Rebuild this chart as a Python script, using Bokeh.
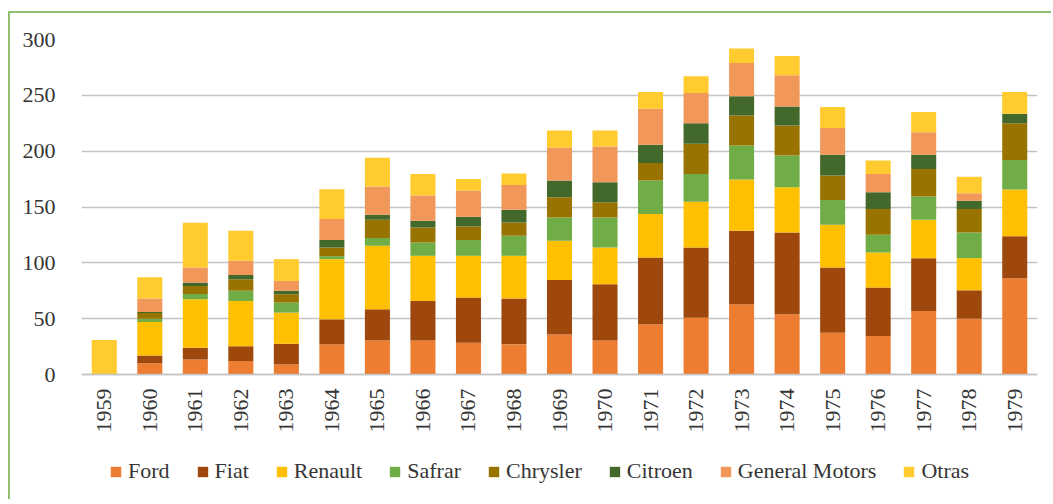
from bokeh.plotting import figure
from bokeh.embed import file_html
from bokeh.resources import INLINE
from bokeh.models import ColumnDataSource, Legend, LegendItem, FixedTicker
import math

years = [str(y) for y in range(1959, 1980)]
series = ["Ford", "Fiat", "Renault", "Safrar", "Chrysler", "Citroen", "General Motors", "Otras"]

ford     = [0, 10, 13.5, 12, 9, 27, 30.5, 30.5, 28.4, 27, 35.9, 30.5, 44.9, 50.9, 62.9, 53.9, 37.4, 34.4, 56.9, 50, 86.2]
fiat     = [0, 7, 10.5, 13.4, 18.5, 22.4, 27.9, 35.4, 40.5, 41, 48.8, 50.3, 59.9, 62.9, 65.8, 73.3, 58.4, 43.4, 47.3, 25.4, 37.5]
renault  = [0, 30, 43.4, 40.5, 27.9, 53.9, 56.9, 40.4, 37.4, 38.3, 35.1, 33, 38.9, 41, 45.9, 40.5, 38.3, 31.5, 34.4, 28.8, 41.9]
safrar   = [0, 3, 4.6, 9, 9, 2.7, 6.9, 12, 14.1, 18, 20.9, 26.9, 30, 24.8, 30.5, 28.4, 22.2, 15.8, 20.7, 23, 26.6]
chrysler = [0, 5, 7.3, 10.4, 7.5, 7.8, 16.4, 13.4, 12.2, 11.9, 18, 13.5, 15.8, 27, 26.9, 26.9, 21.8, 23.1, 24.8, 21, 32.9]
citroen  = [0, 1, 3, 3.9, 3, 6.6, 4.5, 6, 8.7, 11.4, 15, 18, 16.2, 18.5, 17.1, 17.1, 18.6, 15, 12.6, 7.5, 8.4]
gm       = [0, 12, 13.5, 12.6, 8.9, 18.8, 25.2, 22.5, 23.4, 22.2, 29.3, 32, 32.3, 27, 29.9, 27.9, 24, 16.4, 20.3, 6.6, 0]
otras    = [31, 19, 40.2, 26.9, 19.5, 26.8, 25.7, 19.4, 10.3, 10.2, 15.6, 14.4, 15, 14.9, 13, 17.3, 18.8, 12, 18, 14.9, 19.5]

y_ticks = [0, 50, 100, 150, 200, 250, 300]

colors = ["#ED7D31", "#9E480E", "#FFC000", "#70AD47", "#997300", "#43682B", "#F1975A", "#FFCB2E"]

source = ColumnDataSource(dict(
    year=years, Ford=ford, Fiat=fiat, Renault=renault, Safrar=safrar,
    Chrysler=chrysler, Citroen=citroen, GM=gm, Otras=otras,
))
keys = ["Ford", "Fiat", "Renault", "Safrar", "Chrysler", "Citroen", "GM", "Otras"]

FONT = "Liberation Serif"
LEGEND_FONT = "'Liberation Serif', serif"
TXT = "#353535"

# frame extends below zero so that axis labels and legend sit inside it
Y_TOP = 300
PX_PER_UNIT = 335 / 300
FRAME_H = 460
Y_BOTTOM = Y_TOP - FRAME_H / PX_PER_UNIT

p = figure(x_range=years, y_range=(Y_BOTTOM, Y_TOP), frame_width=956, frame_height=FRAME_H,
           output_backend="svg", toolbar_location=None,
           min_border_left=71, min_border_right=14, min_border_top=26, min_border_bottom=0)
p.styles = {"margin-left": "8px", "margin-top": "11px",
            "border-left": "2px solid #92BF70", "border-top": "2px solid #92BF70"}

renderers = p.vbar_stack(keys, x="year", width=0.55, color=colors, source=source, line_color=None)

p.outline_line_color = None
p.xgrid.grid_line_color = None
p.ygrid.grid_line_color = "#C4C4C4"
p.ygrid.grid_line_width = 1.5
p.yaxis.ticker = FixedTicker(ticks=y_ticks)
p.yaxis.axis_line_color = None
p.yaxis.major_tick_line_color = None
p.yaxis.minor_tick_line_color = None
p.yaxis.major_label_standoff = 20
p.yaxis.major_label_text_font = FONT
p.yaxis.major_label_text_font_size = "22px"
p.yaxis.major_label_text_color = TXT

p.xaxis.fixed_location = 0
p.xaxis.axis_line_color = "#C4C4C4"
p.xaxis.axis_line_width = 1.5
p.xaxis.major_tick_line_color = None
p.xaxis.minor_tick_line_color = None
p.xaxis.major_label_orientation = math.pi / 2
p.xaxis.major_label_standoff = 8
p.xaxis.major_label_text_font = FONT
p.xaxis.major_label_text_font_size = "22px"
p.xaxis.major_label_text_color = TXT

items = [LegendItem(label=s, renderers=[r]) for s, r in zip(series, renderers)]
legend = Legend(items=items, orientation="horizontal", location=(28, 15),
                border_line_color=None, background_fill_alpha=0,
                glyph_width=13, glyph_height=13, label_standoff=6, spacing=26,
                label_text_font=LEGEND_FONT, label_text_font_size="22px", label_text_color=TXT,
                margin=0, padding=4)
p.add_layout(legend, "center")

open("out.html", "w").write(file_html(p, INLINE))
